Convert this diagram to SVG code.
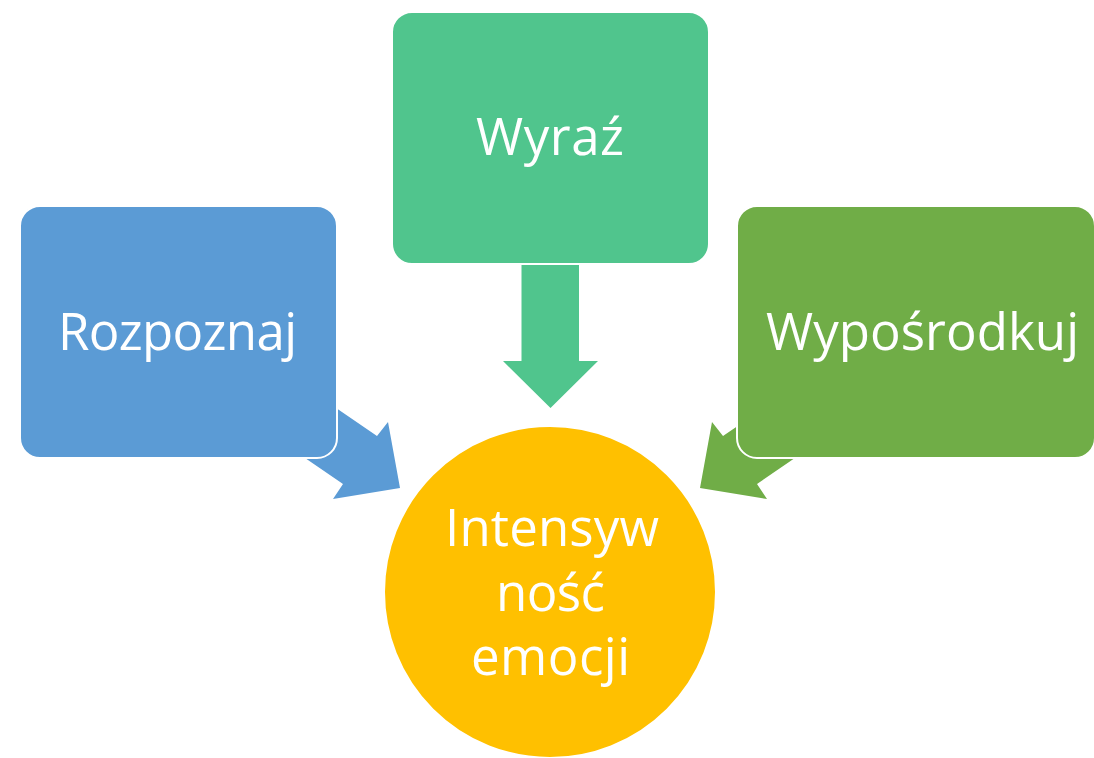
<svg xmlns="http://www.w3.org/2000/svg" width="1094" height="758" viewBox="0 0 1094 758">
<style>
.box{stroke:#fff;stroke-width:2}
.lbl{font-family:"Open Sans","Liberation Sans",sans-serif;font-size:51px;fill:#fff;text-anchor:middle}
</style>
<rect width="1094" height="758" fill="#fff"/>
<g id="connectors">
<polygon fill="#5B9BD5" points="294.5,379.5 377,436 388,422 400,488 333,499 343,484 260.5,427.5"/>
<polygon fill="#50C58D" points="521.5,250 579,250 579,361 598,361 550.5,408 503,361 521.5,361"/>
<polygon fill="#70AD47" points="805.5,379.5 723,436 712,422 700,488 767,499 757,484 839.5,427.5"/>
</g>
<g id="rozpoznaj">
<rect class="box" x="20" y="206" width="317" height="252" rx="20" fill="#5B9BD5"/>
<text class="lbl" x="177.5" y="350" textLength="239">Rozpoznaj</text>
</g>
<g id="wyraz">
<rect class="box" x="392" y="12" width="317" height="252" rx="20" fill="#50C58D"/>
<text class="lbl" x="550" y="155" textLength="148">Wyraź</text>
</g>
<g id="wyposrodkuj">
<rect class="box" x="737" y="206" width="358" height="252" rx="20" fill="#70AD47"/>
<text class="lbl" x="922.5" y="350" textLength="313">Wypośrodkuj</text>
</g>
<g id="intensywnosc">
<circle class="box" cx="550" cy="592" r="166" fill="#FFC000"/>
<text class="lbl" x="552" y="546" textLength="214">Intensyw</text>
<text class="lbl" x="550.5" y="611" textLength="109">ność</text>
<text class="lbl" x="550.5" y="675" textLength="159">emocji</text>
</g>
</svg>
